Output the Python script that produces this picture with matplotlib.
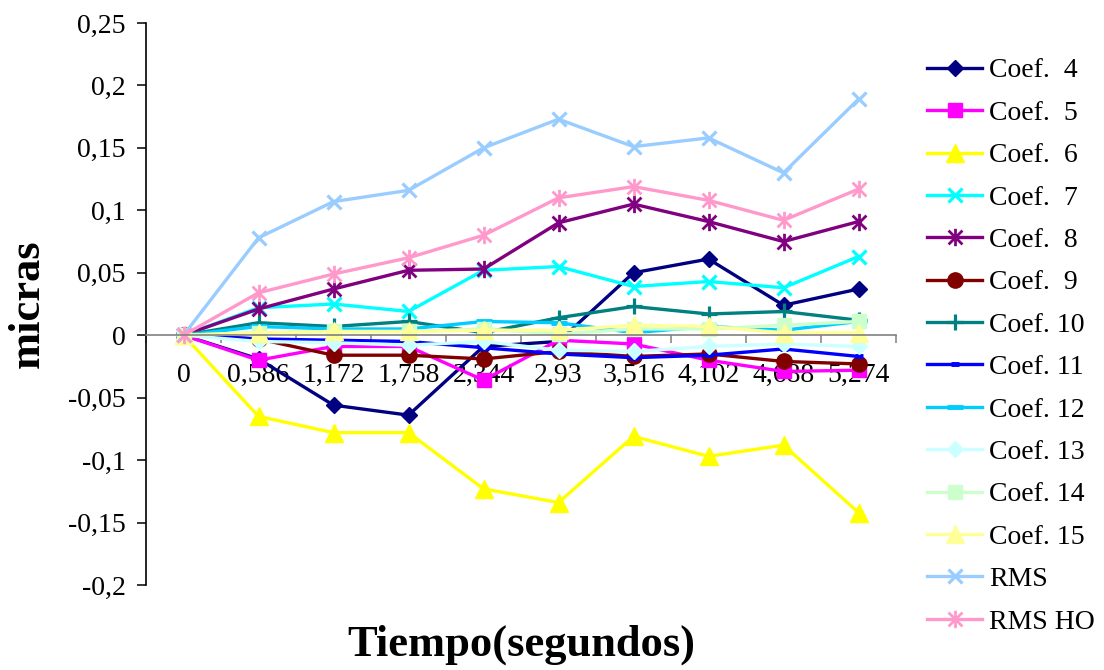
import matplotlib
matplotlib.use("Agg")
import matplotlib.pyplot as plt
from matplotlib.path import Path
import numpy as np

plt.rcParams["font.family"] = ["Liberation Serif", "DejaVu Serif"]

# time samples (category labels, comma decimals)
tiempos = ["0", "0,586", "1,172", "1,758", "2,344", "2,93",
           "3,516", "4,102", "4,688", "5,274"]

coef4 = [0, -0.019, -0.056, -0.064, -0.009, -0.005, 0.050, 0.061, 0.024, 0.037]
coef5 = [0, -0.020, -0.009, -0.009, -0.036, -0.004, -0.007, -0.020, -0.029, -0.028]
coef6 = [0, -0.065, -0.078, -0.078, -0.123, -0.134, -0.081, -0.097, -0.088, -0.142]
coef7 = [0, 0.022, 0.025, 0.019, 0.052, 0.055, 0.039, 0.043, 0.038, 0.063]
coef8 = [0, 0.021, 0.037, 0.052, 0.053, 0.090, 0.105, 0.091, 0.075, 0.091]
coef9 = [0, -0.003, -0.016, -0.016, -0.019, -0.013, -0.017, -0.015, -0.021, -0.023]
coef10 = [0, 0.010, 0.007, 0.011, 0.002, 0.014, 0.023, 0.017, 0.019, 0.012]
coef11 = [0, -0.003, -0.004, -0.005, -0.010, -0.015, -0.018, -0.016, -0.011, -0.017]
coef12 = [0, 0.007, 0.005, 0.005, 0.011, 0.010, 0.002, 0.007, 0.004, 0.011]
coef13 = [0, -0.005, -0.006, -0.008, -0.005, -0.012, -0.013, -0.009, -0.007, -0.009]
coef14 = [0, 0.002, 0.003, 0.003, 0.005, 0.001, 0.005, 0.005, 0.008, 0.011]
coef15 = [0, 0.002, 0.003, 0.003, 0.004, 0.004, 0.008, 0.007, 0.002, 0.002]
rms = [0, 0.078, 0.107, 0.116, 0.150, 0.173, 0.151, 0.158, 0.130, 0.189]
rms_ho = [0, 0.034, 0.049, 0.062, 0.080, 0.110, 0.119, 0.108, 0.092, 0.117]

y_ticks = [-0.2, -0.15, -0.1, -0.05, 0, 0.05, 0.1, 0.15, 0.2, 0.25]
y_tick_labels = ["-0,2", "-0,15", "-0,1", "-0,05", "0",
                 "0,05", "0,1", "0,15", "0,2", "0,25"]

# Excel-like "star": an x with a vertical bar through it
star = Path([(0, -1), (0, 1), (-0.8, -0.8), (0.8, 0.8), (-0.8, 0.8), (0.8, -0.8)],
            [Path.MOVETO, Path.LINETO, Path.MOVETO, Path.LINETO,
             Path.MOVETO, Path.LINETO])

# (label, values, colour, marker, markersize, marker edge width)
series = [
    ("Coef.  4", coef4, "#000080", "D", 8, 1),
    ("Coef.  5", coef5, "#FF00FF", "s", 10.5, 1),
    ("Coef.  6", coef6, "#FFFF00", "^", 12.5, 1),
    ("Coef.  7", coef7, "#00FFFF", "x", 10.5, 2.3),
    ("Coef.  8", coef8, "#800080", star, 12.5, 2.0),
    ("Coef.  9", coef9, "#800000", "o", 11, 1),
    ("Coef. 10", coef10, "#008080", "+", 11.5, 2.3),
    ("Coef. 11", coef11, "#0000FF", "_", 6, 3.5),
    ("Coef. 12", coef12, "#00CCFF", "_", 12, 3.5),
    ("Coef. 13", coef13, "#CCFFFF", "D", 8, 1),
    ("Coef. 14", coef14, "#CCFFCC", "s", 10.5, 1),
    ("Coef. 15", coef15, "#FFFF99", "^", 12.5, 1),
    ("RMS", rms, "#99CCFF", "x", 10.5, 2.3),
    ("RMS HO", rms_ho, "#FF99CC", star, 12.5, 2.0),
]

fig = plt.figure(figsize=(11.04, 6.70), dpi=100)
ax = fig.add_axes([146 / 1104, 1 - 585 / 670, 750 / 1104, 562 / 670])

x = np.arange(len(tiempos))
handles = []
for label, vals, color, marker, ms, mew in series:
    h, = ax.plot(x, vals, color=color, lw=2.4, marker=marker, ms=ms,
                 mec=color, mfc=color, mew=mew, label=label, clip_on=False)
    handles.append(h)

ax.set_xlim(-0.5, len(tiempos) - 0.5)
ax.set_ylim(-0.2, 0.25)

# axes: left spine plain, category axis crossing at zero
for side in ("top", "right"):
    ax.spines[side].set_visible(False)
ax.spines["bottom"].set_position(("data", 0))
ax.spines["bottom"].set_color("#808080")
ax.spines["bottom"].set_linewidth(1.2)
ax.spines["left"].set_linewidth(1.2)

ax.set_yticks(y_ticks)
ax.set_yticklabels(y_tick_labels)
ax.tick_params(axis="y", direction="out", length=6.5, width=1.1,
               labelsize=20, pad=8)

# tick marks between categories, labels centred on categories
ax.set_xticks(np.arange(len(tiempos) + 1) - 0.5)
ax.set_xticklabels([])
ax.set_xticks(x, minor=True)
ax.set_xticklabels(tiempos, minor=True)
ax.tick_params(axis="x", which="major", direction="out", length=6,
               width=1.1, color="#808080")
ax.tick_params(axis="x", which="minor", length=0, labelsize=20, pad=20)

ax.set_ylabel("micras", fontsize=32, fontweight="bold", va="center")
ax.yaxis.set_label_coords(-0.157, 0.5)
ax.set_xlabel("Tiempo(segundos)", fontsize=32, fontweight="bold", va="center")
ax.xaxis.set_label_coords(0.5, -0.107)

fig.legend(handles, [s[0] for s in series], loc="upper left",
           bbox_to_anchor=(927 / 1104, 1 - 58 / 670), frameon=False,
           fontsize=20, handlelength=1.98, handletextpad=0.25,
           labelspacing=0.61, borderpad=0, borderaxespad=0)

fig.savefig("out.png", dpi=100, facecolor="white")
